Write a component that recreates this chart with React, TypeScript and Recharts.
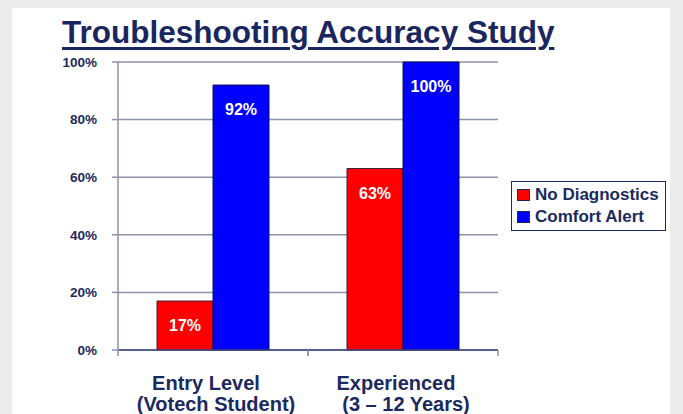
import React from 'react'
import {
  BarChart,
  Bar,
  XAxis,
  YAxis,
  CartesianGrid,
  Legend,
  LabelList,
} from 'recharts'

const groups = ['Entry Level|(Votech Student)', 'Experienced|(3 – 12 Years)']
const noDiagnostics = [17, 63]
const comfortAlert = [92, 100]
const yTicks = [0, 20, 40, 60, 80, 100]

const NAVY = '#1b2a5e'
const GRID = '#8e92aa'
const FONT = "Arial, 'Liberation Sans', sans-serif"

const data = groups.map((g, i) => ({
  group: g,
  noDiag: noDiagnostics[i],
  comfort: comfortAlert[i],
}))

// category label in two lines, plus the small marks at the band edges
const GroupTick = (props: any) => {
  const { x, y, payload } = props
  const [line1, line2] = String(payload.value).split('|')
  const half = payload.offset || 0
  const axisY = y - 8
  return (
    <g>
      <line x1={x - half} x2={x - half} y1={axisY} y2={axisY + 6} stroke={GRID} strokeWidth={1.5} />
      <line x1={x + half} x2={x + half} y1={axisY} y2={axisY + 6} stroke={GRID} strokeWidth={1.5} />
      <text
        x={x}
        y={y}
        textAnchor="middle"
        fill={NAVY}
        fontSize={20}
        fontWeight="bold"
        fontFamily={FONT}
      >
        <tspan x={x - 7} dy={32}>
          {line1}
        </tspan>
        <tspan x={x + 3} dy={21}>
          {line2}
        </tspan>
      </text>
    </g>
  )
}

const LegendBox = () => (
  <div
    style={{
      border: `1.5px solid ${NAVY}`,
      background: '#fff',
      padding: '2px 6px 2px 5px',
      fontFamily: FONT,
      fontWeight: 'bold',
      fontSize: 17,
      color: NAVY,
      lineHeight: '22px',
    }}
  >
    {[
      { name: 'No Diagnostics', color: '#ff0000' },
      { name: 'Comfort Alert', color: '#0000ff' },
    ].map((item) => (
      <div key={item.name} style={{ display: 'flex', alignItems: 'center' }}>
        <span
          style={{
            display: 'inline-block',
            width: 11,
            height: 10,
            background: item.color,
            border: `1px solid ${NAVY}`,
            marginRight: 5,
          }}
        />
        {item.name}
      </div>
    ))}
  </div>
)

export default function App() {
  return (
    <div
      style={{
        position: 'absolute',
        left: 0,
        top: 0,
        width: 683,
        height: 414,
        background: '#ececec',
        overflow: 'hidden',
      }}
    >
      <div
        style={{
          position: 'absolute',
          left: 12,
          top: 8,
          width: 658,
          height: 406,
          background: '#fff',
        }}
      />
      <div
        style={{
          position: 'absolute',
          left: 62,
          top: 14,
          fontFamily: FONT,
          fontWeight: 'bold',
          fontSize: 31.5,
          color: '#1a2660',
          textDecoration: 'underline',
          textDecorationThickness: 3,
          textUnderlineOffset: 4,
          whiteSpace: 'nowrap',
        }}
      >
        Troubleshooting Accuracy Study
      </div>
      <div style={{ position: 'absolute', left: 0, top: 0 }}>
        <BarChart
          width={683}
          height={414}
          data={data}
          margin={{ top: 62, right: 185, bottom: 0, left: 0 }}
          barCategoryGap={39}
          barGap={0}
        >
          <CartesianGrid vertical={false} stroke={GRID} strokeWidth={1.5} />
          <XAxis
            dataKey="group"
            tick={<GroupTick />}
            tickLine={false}
            axisLine={{ stroke: '#3a4778', strokeWidth: 1.5 }}
            height={64}
            interval={0}
          />
          <YAxis
            domain={[0, 100]}
            ticks={yTicks}
            tickFormatter={(v) => `${v}%`}
            width={118}
            tickSize={6}
            tickMargin={15}
            axisLine={{ stroke: GRID, strokeWidth: 1.5 }}
            tickLine={{ stroke: GRID, strokeWidth: 1.5 }}
            tick={{
              fill: NAVY,
              fontSize: 13.5,
              fontWeight: 'bold',
              fontFamily: FONT,
            }}
          />
          <Legend
            layout="horizontal"
            align="center"
            verticalAlign="middle"
            content={<LegendBox />}
            wrapperStyle={{ left: 511, top: 181, width: 'auto' }}
          />
          <Bar
            dataKey="noDiag"
            name="No Diagnostics"
            fill="#ff0000"
            stroke="#3a1a40"
            strokeWidth={1}
            isAnimationActive={false}
          >
            <LabelList
              dataKey="noDiag"
              position="insideTop"
              offset={19}
              formatter={(v: any) => `${v}%`}
              fill="#fff"
              fontSize={16}
              fontWeight="bold"
              fontFamily={FONT}
            />
          </Bar>
          <Bar
            dataKey="comfort"
            name="Comfort Alert"
            fill="#0000ff"
            stroke="#101050"
            strokeWidth={1}
            isAnimationActive={false}
          >
            <LabelList
              dataKey="comfort"
              position="insideTop"
              offset={19}
              formatter={(v: any) => `${v}%`}
              fill="#fff"
              fontSize={16}
              fontWeight="bold"
              fontFamily={FONT}
            />
          </Bar>
        </BarChart>
      </div>
    </div>
  )
}
